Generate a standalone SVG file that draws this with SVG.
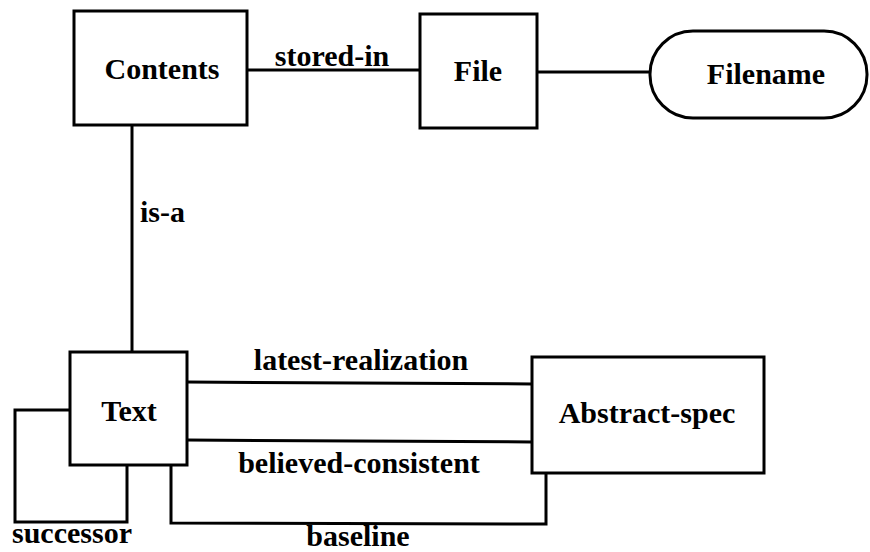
<svg xmlns="http://www.w3.org/2000/svg" width="870" height="552" viewBox="0 0 870 552">
  <style>
    .box { fill: #fff; stroke: #000; stroke-width: 3; }
    .edge { fill: none; stroke: #000; stroke-width: 3; stroke-linejoin: miter; }
    text { font-family: "Liberation Serif", "Times New Roman", serif; font-weight: bold; font-size: 30px; fill: #000; }
    .mid { text-anchor: middle; }
  </style>
  <rect width="870" height="552" fill="#fff"/>

  <g id="connectors">
    <!-- Contents — File -->
    <line class="edge" x1="247" y1="70" x2="420" y2="70"/>
    <!-- File — Filename -->
    <line class="edge" x1="537" y1="72" x2="650" y2="72"/>
    <!-- Contents — Text -->
    <line class="edge" x1="132" y1="125" x2="132" y2="352"/>
    <!-- Text — Abstract-spec -->
    <line class="edge" x1="187" y1="382" x2="532" y2="384"/>
    <line class="edge" x1="187" y1="440" x2="532" y2="442"/>
    <polyline class="edge" points="171,465 171,523 546,524 546,473"/>
    <!-- Text self loop -->
    <polyline class="edge" points="70,410 15,410 15,522 127,522 127,465"/>

    <text class="mid" x="332" y="66">stored-in</text>
    <text x="140" y="222">is-a</text>
    <text class="mid" x="361" y="370">latest-realization</text>
    <text class="mid" x="359" y="473">believed-consistent</text>
    <text x="12" y="543">successor</text>
    <text class="mid" x="358" y="546">baseline</text>
  </g>

  <g id="contents">
    <rect class="box" x="74" y="11" width="173" height="114"/>
    <text class="mid" x="162" y="79">Contents</text>
  </g>

  <g id="file">
    <rect class="box" x="420" y="14" width="117" height="114"/>
    <text class="mid" x="478" y="81">File</text>
  </g>

  <g id="filename">
    <rect class="box" x="650" y="31" width="217" height="87" rx="43" ry="43"/>
    <text class="mid" x="766" y="84">Filename</text>
  </g>

  <g id="text-node">
    <rect class="box" x="70" y="352" width="117" height="113"/>
    <text class="mid" x="129" y="421">Text</text>
  </g>

  <g id="abstract-spec">
    <rect class="box" x="532" y="357" width="232" height="116"/>
    <text class="mid" x="647" y="423">Abstract-spec</text>
  </g>
</svg>
